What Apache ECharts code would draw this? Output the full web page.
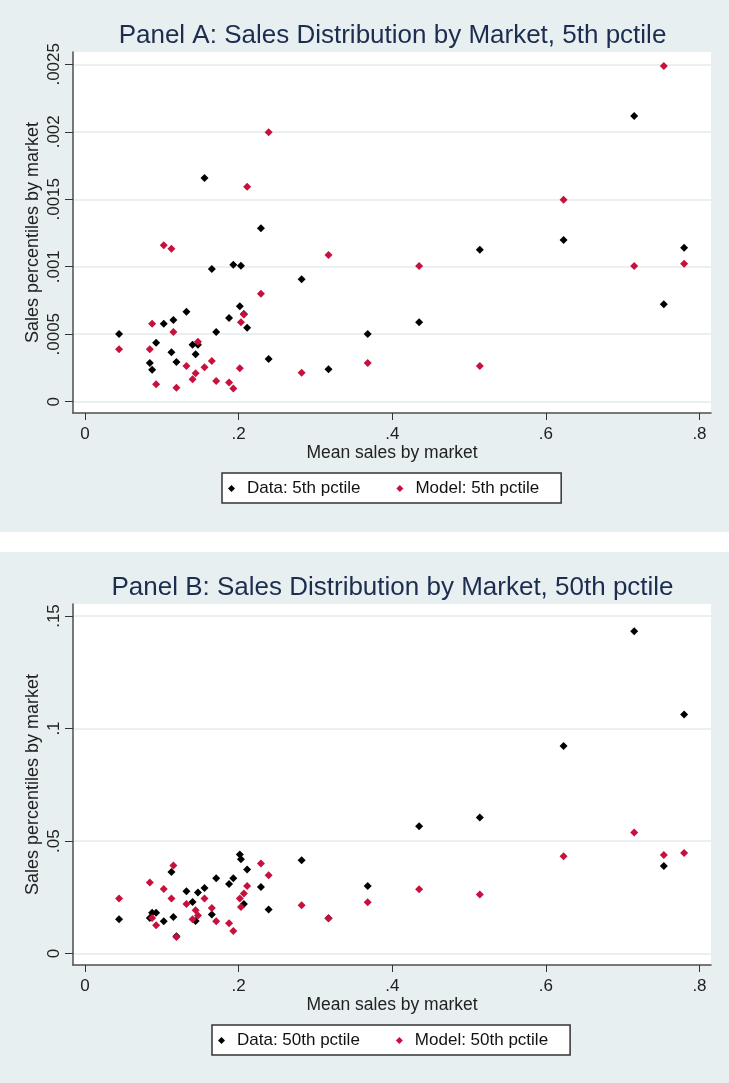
<!DOCTYPE html>
<html><head><meta charset="utf-8">
<script src="https://cdn.jsdelivr.net/npm/echarts@6/dist/echarts.min.js"></script>
<style>
html,body{margin:0;padding:0;background:#fff;width:729px;height:1083px;overflow:hidden}
#a{position:absolute;left:0;top:0;width:729px;height:532px}
#b{position:absolute;left:0;top:552px;width:729px;height:531px}
</style></head><body>
<div id="a"></div><div id="b"></div>
<script>
// Mean sales by market (shared x values, one per market)
const meanSales = [0.0443,0.0843,0.0873,0.0925,0.1025,0.1125,0.115,0.119,0.132,0.140,0.144,0.147,0.1555,0.165,0.1707,0.1875,0.193,0.2015,0.203,0.2068,0.211,0.229,0.239,0.282,0.317,0.368,0.435,0.514,0.623,0.715,0.7536,0.780];
// Panel A: 5th percentile
const data5 = [0.000502,0.000287,0.000237,0.000437,0.000578,0.000366,0.000605,0.000294,0.000667,0.000422,0.000351,0.000422,0.001658,0.000983,0.000516,0.00062,0.001015,0.000707,0.001008,0.00065,0.000548,0.001285,0.000316,0.000907,0.00024,0.000502,0.000588,0.001126,0.001198,0.002117,0.000722,0.001141];
const model5 = [0.000388,0.000388,0.000578,0.000129,0.001159,0.001134,0.000516,0.000104,0.000265,0.000166,0.00021,0.000445,0.000255,0.000302,0.000153,0.000143,0.000097,0.000247,0.000588,0.000647,0.001593,0.0008,0.001996,0.000215,0.001087,0.000287,0.001005,0.000265,0.001497,0.001005,0.002487,0.001023];
// Panel B: 50th percentile
const data50 = [0.01524,0.0158,0.0182,0.0182,0.01435,0.03626,0.01627,0.00769,0.02768,0.02293,0.01449,0.0271,0.02915,0.01733,0.03346,0.03093,0.03346,0.04399,0.0419,0.02204,0.03732,0.0296,0.01955,0.04145,0.0157,0.03004,0.05656,0.06042,0.09224,0.1432,0.03892,0.1062];
const model50 = [0.02444,0.03154,0.0158,0.0126,0.0287,0.02444,0.0391,0.00738,0.02204,0.01524,0.01924,0.01688,0.02444,0.02026,0.01435,0.01346,0.01004,0.02444,0.0207,0.02666,0.03004,0.04,0.03479,0.02146,0.01568,0.0228,0.02857,0.02621,0.04323,0.05376,0.04381,0.0447];
// Tick values and labels
const xTickValues = [0,0.2,0.4,0.6,0.8];
const xTickLabels = ['0','.2','.4','.6','.8'];
const yTickValuesA = [0,0.0005,0.001,0.0015,0.002,0.0025];
const yTickLabelsA = ['0','.0005','.001','.0015','.002','.0025'];
const yTickValuesB = [0,0.05,0.1,0.15];
const yTickLabelsB = ['0','.05','.1','.15'];

const FONT = "'Liberation Sans', Arial, sans-serif";
const BG = '#e8eff1';
const RED = '#c8103e';

function lab(values, labels) {
  return v => { for (let i = 0; i < values.length; i++) if (Math.abs(values[i] - v) < 1e-9) return labels[i]; return ''; };
}
function zip(xs, ys) { return xs.map((x, i) => [x, ys[i]]); }

function makeOption(title, dName, mName, dVals, mVals, yVals, yLabels, yMin, yMax, legendLeft) {
  return {
    backgroundColor: BG,
    animation: false,
    title: {
      text: title, left: 392.5, textAlign: 'center', top: 23, padding: 0,
      textStyle: { fontFamily: FONT, fontSize: 26, fontWeight: 'normal', color: '#1c2d4f' }
    },
    legend: {
      data: [{name: dName, icon: 'diamond'}, {name: mName, icon: 'diamond'}],
      left: legendLeft, top: 473, orient: 'horizontal',
      padding: [7, 22, 6, 6], itemWidth: 7, itemHeight: 7, itemGap: 36,
      symbolKeepAspect: true,
      backgroundColor: '#fff', borderColor: '#333', borderWidth: 1.5, borderRadius: 0,
      textStyle: { fontFamily: FONT, fontSize: 17, color: '#111', padding: [0, 0, 0, 7] },
      selectedMode: false
    },
    grid: { left: 73, top: 52, width: 638, height: 361, show: true, backgroundColor: '#fff', borderWidth: 0, containLabel: false },
    xAxis: {
      type: 'value', min: -0.0157, max: 0.8150,
      name: 'Mean sales by market', nameLocation: 'middle', nameGap: 31, nameMoveOverlap: false,
      nameTextStyle: { fontFamily: FONT, fontSize: 17.5, color: '#222' },
      axisLine: { show: true, onZero: false, lineStyle: { color: '#4d4d4d', width: 1.5 } },
      axisTick: { show: true, length: 7, customValues: xTickValues, lineStyle: { color: '#333', width: 1 } },
      axisLabel: { customValues: xTickValues, formatter: lab(xTickValues, xTickLabels), margin: 13,
        fontFamily: FONT, fontSize: 17, color: '#222' },
      splitLine: { show: false }
    },
    yAxis: {
      type: 'value', min: yMin, max: yMax,
      name: 'Sales percentiles by market', nameLocation: 'middle', nameGap: 31, nameRotate: 90, nameMoveOverlap: false,
      nameTextStyle: { fontFamily: FONT, fontSize: 18, color: '#222' },
      axisLine: { show: true, onZero: false, lineStyle: { color: '#4d4d4d', width: 1.5 } },
      axisTick: { show: true, length: 8, customValues: yVals, lineStyle: { color: '#333', width: 1 } },
      axisLabel: { customValues: yVals, formatter: lab(yVals, yLabels), rotate: 90, margin: 10,
        fontFamily: FONT, fontSize: 17, color: '#222' },
      splitLine: { show: true, lineStyle: { color: '#e3ebee', width: 1.5 } }
    },
    series: [
      { name: dName, type: 'scatter', symbol: 'diamond', symbolSize: 8, silent: true,
        itemStyle: { color: '#000', opacity: 1 }, data: zip(meanSales, dVals), z: 2 },
      { name: mName, type: 'scatter', symbol: 'diamond', symbolSize: 8, silent: true,
        itemStyle: { color: RED, opacity: 1 }, data: zip(meanSales, mVals), z: 3 }
    ]
  };
}

const chartA = echarts.init(document.getElementById('a'), null, { renderer: 'canvas' });
chartA.setOption(makeOption('Panel A: Sales Distribution by Market, 5th pctile',
  'Data: 5th pctile', 'Model: 5th pctile', data5, model5, yTickValuesA, yTickLabelsA, -0.0000837, 0.002591, 222));
const chartB = echarts.init(document.getElementById('b'), null, { renderer: 'canvas' });
chartB.setOption(makeOption('Panel B: Sales Distribution by Market, 50th pctile',
  'Data: 50th pctile', 'Model: 50th pctile', data50, model50, yTickValuesB, yTickLabelsB, -0.005065, 0.15533, 212));
</script>
</body></html>
